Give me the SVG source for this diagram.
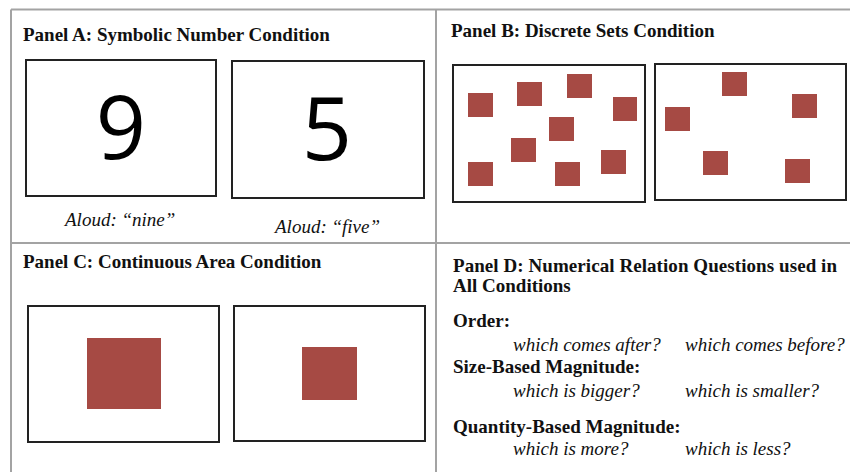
<svg xmlns="http://www.w3.org/2000/svg" width="850" height="472" viewBox="0 0 850 472">
<style>
.grid{stroke:#a3a3a3;stroke-width:2;fill:none}
.box{fill:#fff;stroke:#222;stroke-width:2}
.sq{fill:#a64a44}
.ttl{font-family:"Liberation Serif","Times New Roman",serif;font-weight:bold;font-size:19px;fill:#111}
.it{font-family:"Liberation Serif","Times New Roman",serif;font-style:italic;font-size:19px;fill:#111}
.dig{font-family:"Open Sans","DejaVu Sans",sans-serif;font-size:88px;fill:#000;text-anchor:middle}
</style>
<rect width="850" height="472" fill="#fff"/>
<g id="grid">
<line class="grid" x1="11" y1="9.5" x2="850" y2="9.5"/>
<line class="grid" x1="11" y1="9.5" x2="11" y2="472"/>
<line class="grid" x1="436" y1="9.5" x2="436" y2="472"/>
<line class="grid" x1="11" y1="243" x2="850" y2="243"/>
</g>
<g id="panelA">
<text class="ttl" x="23" y="41">Panel A: Symbolic Number Condition</text>
<rect class="box" x="26" y="60" width="190" height="136"/>
<rect class="box" x="232" y="61" width="192" height="137"/>
<text class="dig" x="121" y="159">9</text>
<text class="dig" x="327" y="160">5</text>
<text class="it" x="65" y="226">Aloud: “nine”</text>
<text class="it" x="275" y="233">Aloud: “five”</text>
</g>
<g id="panelB">
<text class="ttl" x="451" y="37">Panel B: Discrete Sets Condition</text>
<rect class="box" x="453" y="65" width="192" height="137"/>
<rect class="box" x="655" y="64" width="191" height="136"/>
<rect class="sq" x="468" y="93" width="25" height="24"/>
<rect class="sq" x="517" y="82" width="25" height="24"/>
<rect class="sq" x="567" y="74" width="25" height="24"/>
<rect class="sq" x="613" y="97" width="24" height="24"/>
<rect class="sq" x="549" y="117" width="25" height="24"/>
<rect class="sq" x="511" y="138" width="25" height="24"/>
<rect class="sq" x="468" y="162" width="25" height="24"/>
<rect class="sq" x="555" y="162" width="25" height="24"/>
<rect class="sq" x="601" y="150" width="25" height="24"/>
<rect class="sq" x="722" y="72" width="25" height="24"/>
<rect class="sq" x="792" y="94" width="25" height="24"/>
<rect class="sq" x="665" y="107" width="25" height="24"/>
<rect class="sq" x="703" y="151" width="25" height="24"/>
<rect class="sq" x="785" y="159" width="25" height="24"/>
</g>
<g id="panelC">
<text class="ttl" x="23" y="268">Panel C: Continuous Area Condition</text>
<rect class="box" x="28" y="306" width="191" height="136"/>
<rect class="box" x="234" y="306" width="191" height="135"/>
<rect class="sq" x="87" y="338" width="74" height="71"/>
<rect class="sq" x="302" y="347" width="55" height="53"/>
</g>
<g id="panelD">
<text class="ttl" x="453" y="272" textLength="384" lengthAdjust="spacing">Panel D: Numerical Relation Questions used in</text>
<text class="ttl" x="453" y="292">All Conditions</text>
<text class="ttl" x="453" y="327">Order:</text>
<text class="it" x="513" y="351">which comes after?</text>
<text class="it" x="685" y="351">which comes before?</text>
<text class="ttl" x="453" y="373">Size-Based Magnitude:</text>
<text class="it" x="513" y="397">which is bigger?</text>
<text class="it" x="685" y="397">which is smaller?</text>
<text class="ttl" x="453" y="433">Quantity-Based Magnitude:</text>
<text class="it" x="513" y="455">which is more?</text>
<text class="it" x="685" y="455">which is less?</text>
</g>
</svg>
